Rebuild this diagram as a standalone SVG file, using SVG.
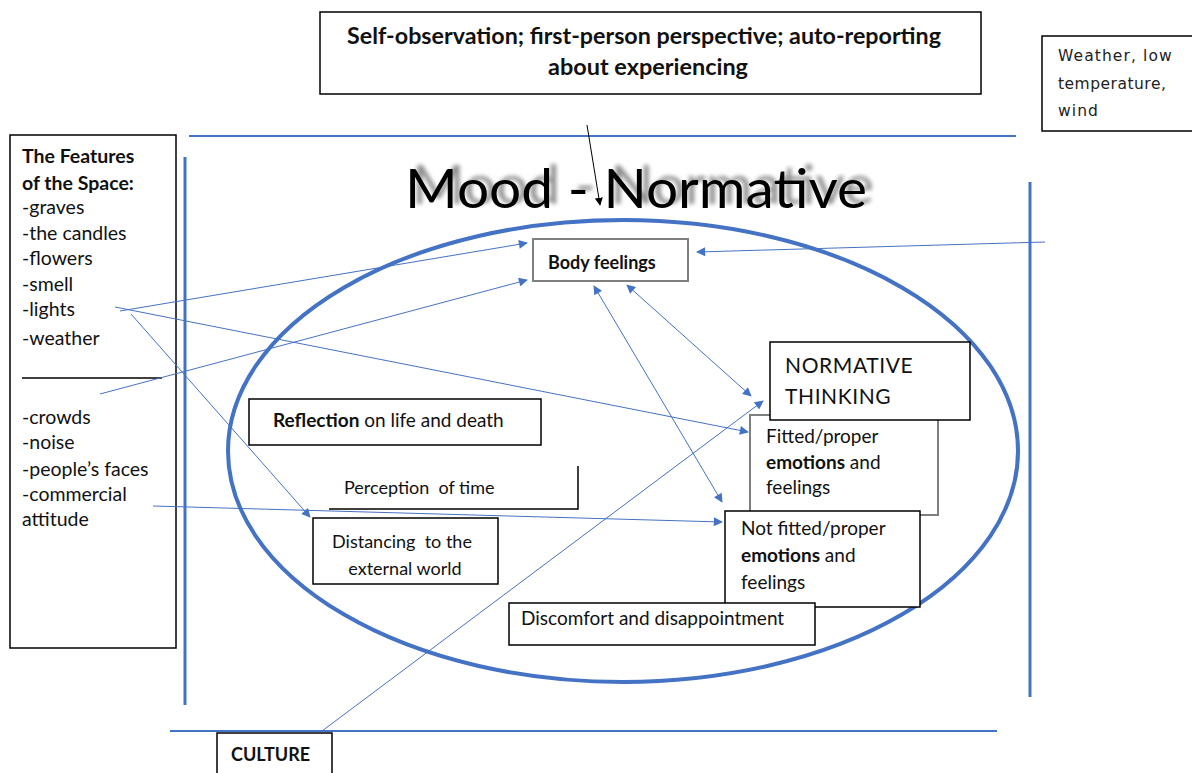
<svg xmlns="http://www.w3.org/2000/svg" width="1192" height="773" viewBox="0 0 1192 773">
<style>
  .box{fill:#fff;stroke:#000;stroke-width:1.5}
  .gbox{fill:#fff;stroke:#7f7f7f;stroke-width:2}
  .t{font-family:Lato,"Open Sans","Liberation Sans",sans-serif;font-size:19.5px;fill:#111}
  .s18{font-size:18px}
  .s19{font-size:19px}
  .s22{font-size:22px}
  .s21{font-size:21px}
  .b{font-weight:bold}
  .frame{stroke:#4472C4;fill:none}
  .conn{stroke:#4472C4;stroke-width:1;fill:none}
  .dj{font-family:"DejaVu Sans",Verdana,sans-serif;font-size:15.5px;fill:#222}
</style>
<defs>
  <marker id="ah" viewBox="0 0 10 10" refX="9" refY="5" markerWidth="10" markerHeight="9" markerUnits="userSpaceOnUse" orient="auto-start-reverse">
    <path d="M0,0 L10,5 L0,10 z" fill="#4472C4"/>
  </marker>
  <marker id="bh" viewBox="0 0 10 10" refX="9" refY="5" markerWidth="8" markerHeight="8" markerUnits="userSpaceOnUse" orient="auto">
    <path d="M0,0 L10,5 L0,10 z" fill="#000"/>
  </marker>
  <filter id="shadow" x="-10%" y="-40%" width="120%" height="180%">
    <feGaussianBlur in="SourceAlpha" stdDeviation="2.2" result="b"/>
    <feOffset in="b" dx="7" dy="-4" result="o"/>
    <feComponentTransfer in="o" result="s">
      <feFuncA type="linear" slope="0.45"/>
    </feComponentTransfer>
    <feMerge>
      <feMergeNode in="s"/>
      <feMergeNode in="SourceGraphic"/>
    </feMerge>
  </filter>
</defs>

<!-- frame lines -->
<g id="frame">
  <line class="frame" x1="189" y1="136" x2="1016" y2="136" stroke-width="2"/>
  <line class="frame" x1="185" y1="157" x2="185" y2="705" stroke-width="3"/>
  <line class="frame" x1="1030" y1="182" x2="1030" y2="697" stroke-width="3"/>
  <line class="frame" x1="170" y1="731" x2="997" y2="731" stroke-width="2"/>
  <ellipse class="frame" cx="623" cy="451" rx="395" ry="231" stroke-width="4"/>
</g>

<!-- title -->
<g id="title">
  <text x="405" y="208" font-family="Lato,'Open Sans','Liberation Sans',sans-serif" font-size="54" fill="#000" filter="url(#shadow)" textLength="462" lengthAdjust="spacingAndGlyphs">Mood - Normative</text>
</g>

<!-- nodes -->
<g id="self-observation">
  <rect class="box" x="320" y="12" width="661" height="82"/>
  <text class="t b s22" x="644" y="44" text-anchor="middle" textLength="594" lengthAdjust="spacingAndGlyphs">Self-observation; first-person perspective; auto-reporting</text>
  <text class="t b s22" x="648" y="75" text-anchor="middle" textLength="200" lengthAdjust="spacingAndGlyphs">about experiencing</text>
</g>

<g id="weather">
  <rect class="box" x="1042" y="36" width="160" height="95"/>
  <text class="dj" x="1058" y="61" letter-spacing="1.1">Weather, low</text>
  <text class="dj" x="1058" y="89" letter-spacing="0.5">temperature,</text>
  <text class="dj" x="1058" y="116" letter-spacing="1.1">wind</text>
</g>

<g id="features">
  <rect class="box" x="10" y="135" width="166" height="513"/>
  <text class="t b" x="22" y="163">The Features</text>
  <text class="t b" x="22" y="190">of the Space:</text>
  <text class="t" x="22" y="214">-graves</text>
  <text class="t" x="22" y="240">-the candles</text>
  <text class="t" x="22" y="265">-flowers</text>
  <text class="t" x="22" y="291">-smell</text>
  <text class="t" x="22" y="316">-lights</text>
  <text class="t" x="22" y="345">-weather</text>
  <line x1="22" y1="378" x2="162" y2="378" stroke="#000" stroke-width="1.5"/>
  <text class="t" x="22" y="424">-crowds</text>
  <text class="t" x="22" y="449">-noise</text>
  <text class="t" x="22" y="476">-people’s faces</text>
  <text class="t" x="22" y="501">-commercial</text>
  <text class="t" x="22" y="526">attitude</text>
</g>

<g id="body-feelings">
  <rect class="gbox" x="533" y="239" width="155" height="42"/>
  <text class="t b s18" x="548" y="269">Body feelings</text>
</g>

<g id="reflection">
  <rect class="box" x="249" y="399" width="292" height="46"/>
  <text class="t s19" x="273" y="427"><tspan class="b">Reflection</tspan> on life and death</text>
</g>

<g id="perception">
  <path d="M329,509 H578 V466" fill="none" stroke="#000" stroke-width="1.5"/>
  <text class="t s18" x="344" y="494" xml:space="preserve">Perception  of time</text>
</g>

<g id="distancing">
  <rect class="box" x="313" y="518" width="185" height="66"/>
  <text class="t s18" x="402" y="548" text-anchor="middle" xml:space="preserve">Distancing  to the</text>
  <text class="t s18" x="405" y="575" text-anchor="middle">external world</text>
</g>

<g id="fitted">
  <rect class="gbox" x="750" y="415" width="188" height="100"/>
  <text class="t s19" x="766" y="443">Fitted/proper</text>
  <text class="t s19" x="766" y="469"><tspan class="b">emotions</tspan> and</text>
  <text class="t s19" x="766" y="494">feelings</text>
</g>

<g id="normative-thinking">
  <rect class="box" x="770" y="342" width="200" height="78"/>
  <text class="t s21" x="785" y="373" letter-spacing="0.6">NORMATIVE</text>
  <text class="t s21" x="785" y="404" letter-spacing="0.6">THINKING</text>
</g>

<g id="not-fitted">
  <rect class="box" x="725" y="511" width="195" height="96"/>
  <text class="t s19" x="741" y="535">Not fitted/proper</text>
  <text class="t s19" x="741" y="562"><tspan class="b">emotions</tspan> and</text>
  <text class="t s19" x="741" y="589">feelings</text>
</g>

<g id="discomfort">
  <rect class="box" x="509" y="603" width="306" height="42"/>
  <text class="t s19" x="521" y="625">Discomfort and disappointment</text>
</g>

<g id="culture">
  <rect class="box" x="217" y="733" width="115" height="50"/>
  <text class="t b s18" x="231" y="761">CULTURE</text>
</g>

<!-- connectors -->
<g id="connectors">
  <line x1="587" y1="125" x2="600" y2="205" stroke="#000" stroke-width="1" marker-end="url(#bh)"/>
  <line class="conn" x1="120" y1="311" x2="527" y2="243" marker-end="url(#ah)"/>
  <line class="conn" x1="100" y1="394" x2="527" y2="280" marker-end="url(#ah)"/>
  <line class="conn" x1="115" y1="307" x2="748" y2="432" marker-end="url(#ah)"/>
  <line class="conn" x1="131" y1="314" x2="310" y2="517" marker-end="url(#ah)"/>
  <line class="conn" x1="153" y1="506" x2="722" y2="522" marker-end="url(#ah)"/>
  <line class="conn" x1="1045" y1="242" x2="697" y2="252" marker-end="url(#ah)"/>
  <line class="conn" x1="594" y1="286" x2="722" y2="502" marker-start="url(#ah)" marker-end="url(#ah)"/>
  <line class="conn" x1="627" y1="285" x2="751" y2="396" marker-start="url(#ah)" marker-end="url(#ah)"/>
  <line class="conn" x1="322" y1="731" x2="763" y2="401" marker-end="url(#ah)"/>
</g>
</svg>
